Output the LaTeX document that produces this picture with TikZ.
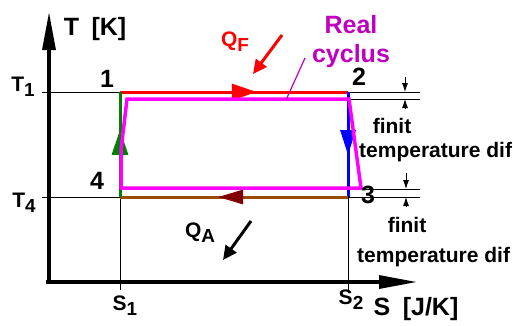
\documentclass[tikz,border=0pt]{standalone}
\usepackage{fontspec}
\setmainfont{Liberation Sans}
\usetikzlibrary{arrows.meta,decorations.markings}
\definecolor{heatin}{HTML}{FF0000}
\definecolor{realline}{HTML}{FF00FF}
\definecolor{realtext}{HTML}{C000C0}
\definecolor{compline}{HTML}{008000}
\definecolor{expline}{HTML}{0000FF}
\definecolor{heatout}{HTML}{994C00}
\definecolor{heatouttip}{HTML}{800000}
\newcommand{\idx}[1]{\raisebox{-0.45ex}{\scalebox{0.9}{#1}}}

\begin{document}
\begin{tikzpicture}[x=1pt, y=-1pt,
    every node/.style={font=\bfseries\fontsize{21}{25}\selectfont, inner sep=0pt},
    big/.style={font=\bfseries\fontsize{25}{29}\selectfont},
    axis/.style={line width=3.2pt, -{Triangle[length=38pt,width=13pt]}},
    guide/.style={line width=0.8pt},
    dim/.style={line width=0.8pt, -{Latex[length=9pt,width=6pt]}},
    stage/.style={line width=3pt},
    midtip/.style 2 args={postaction={decorate}, decoration={markings, mark=at position #1 with {\arrow{#2}}}}]
    \useasboundingbox (0,0) rectangle (513,325);

    % corner points of the ideal cycle
    \coordinate (p1) at (120,92);
    \coordinate (p2) at (348,92);
    \coordinate (p3) at (348,197);
    \coordinate (p4) at (120,197);
    % corner points of the real cycle
    \coordinate (r1) at (127,99);
    \coordinate (r2) at (349,99);
    \coordinate (r3) at (361,188);
    \coordinate (r4) at (121,188);
    \coordinate (r5) at (121,150);

    % axes
    \coordinate (origin) at (49,282);
    \coordinate (xstart) at (46,282);
    \coordinate (ytop) at (49,12);
    \coordinate (xend) at (417,282);
    \draw[axis] (origin) -- (ytop);
    \draw[axis] (xstart) -- (xend);
    \node[big] (tlabel) at (95,29) {T\,\,\,[K]};
    \node[big] (slabel) at (416,309) {S\,\,\,[J/K]};

    % guide lines
    \coordinate (t1tick) at (42,92);
    \coordinate (t4tick) at (42,197);
    \coordinate (s1tick) at (120,290);
    \coordinate (s2tick) at (348,290);
    \coordinate (hi1) at (420,92);
    \coordinate (hi2a) at (348,99);
    \coordinate (hi2) at (420,99);
    \coordinate (lo1a) at (348,189);
    \coordinate (lo1) at (420,189);
    \coordinate (lo2) at (420,197);
    \draw[guide] (t1tick) -- (p1);
    \draw[guide] (t4tick) -- (p4);
    \draw[guide] (p4) -- (s1tick);
    \draw[guide] (p3) -- (s2tick);
    \draw[guide] (p2) -- (hi1);
    \draw[guide] (hi2a) -- (hi2);
    \draw[guide] (lo1a) -- (lo1);
    \draw[guide] (p3) -- (lo2);
    \node (t1) at (23,87) {T\idx{1}};
    \node (t4) at (24,203) {T\idx{4}};
    \node (s1) at (125,306) {S\idx{1}};
    \node (s2) at (351,300) {S\idx{2}};

    % ideal cycle
    \draw[stage, heatin, midtip={0.6}{Triangle[length=25pt,width=16pt]}] (p1) -- (p2);
    \draw[stage, expline, midtip={0.6}{Triangle[length=25pt,width=15pt]}] (p2) -- (p3);
    \draw[stage, heatout, midtip={0.57}{Triangle[length=25pt,width=14pt,color=heatouttip]}] (p3) -- (p4);
    \draw[stage, compline, midtip={0.64}{Triangle[length=25pt,width=16pt]}] (p4) -- (p1);

    % real cycle
    \draw[realline, line width=3.5pt] (r1) -- (r2) -- (r3) -- (r4) -- (r5) -- cycle;
    \node[big, text=realtext, align=center] (real) at (351,42) {Real\\cyclus};
    \coordinate (realfoot) at (305,58);
    \coordinate (realtip) at (286,100);
    \draw[realtext, line width=1.2pt] (realfoot) -- (realtip);

    % point numbers
    \node[big] (n1) at (107,79) {1};
    \node[big] (n2) at (359,77) {2};
    \node[big] (n3) at (368,195) {3};
    \node[big] (n4) at (97,181) {4};

    % heat flows
    \node[text=heatin] (qf) at (235,42) {Q\idx{F}};
    \coordinate (qfa) at (282,35);
    \coordinate (qfb) at (253,74);
    \draw[heatin, line width=3pt, -{Triangle[length=14pt,width=13pt]}] (qfa) -- (qfb);
    \node (qa) at (200,233) {Q\idx{A}};
    \coordinate (qaa) at (251,221);
    \coordinate (qab) at (223,260);
    \draw[line width=3pt, -{Triangle[length=14pt,width=13pt]}] (qaa) -- (qab);

    % finite temperature differences
    \coordinate (d1a) at (405,77);
    \coordinate (d1b) at (405,92);
    \coordinate (d2a) at (405,108);
    \coordinate (d2b) at (405,99);
    \coordinate (d3a) at (406,173);
    \coordinate (d3b) at (406,189);
    \coordinate (d4a) at (406,207);
    \coordinate (d4b) at (406,197);
    \draw[dim] (d1a) -- (d1b);
    \draw[dim] (d2a) -- (d2b);
    \draw[dim] (d3a) -- (d3b);
    \draw[dim] (d4a) -- (d4b);
    \node (fin1) at (392,126) {finit};
    \node[anchor=west] (temp1) at (359,152) {temperature dif};
    \node (fin2) at (407,225) {finit};
    \node[anchor=west] (temp2) at (357,257) {temperature dif};
\end{tikzpicture}
\end{document}
